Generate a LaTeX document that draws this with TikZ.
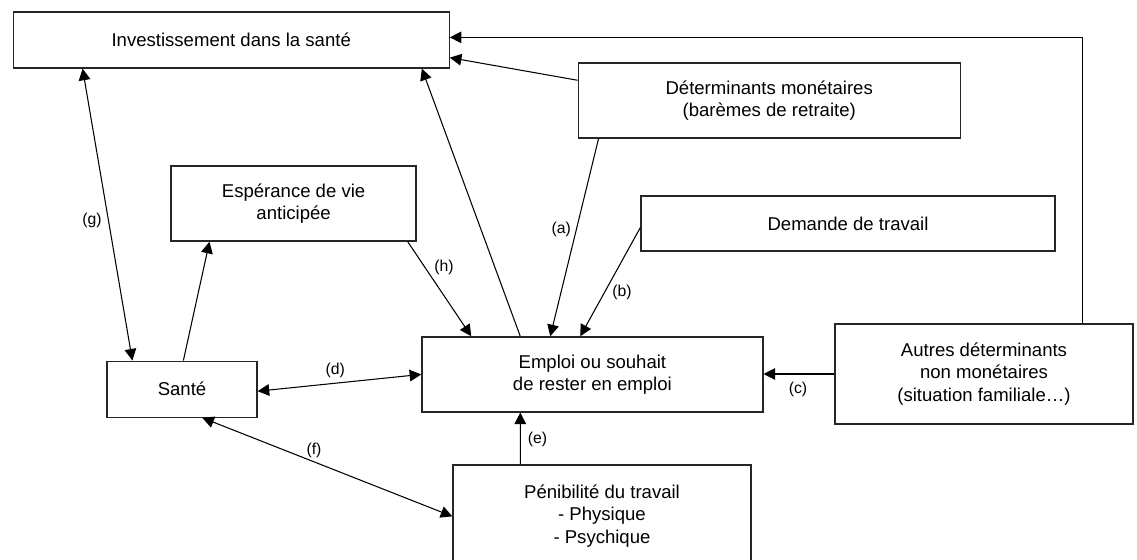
\documentclass[tikz,border=0pt]{standalone}
\usepackage{fontspec}
\setmainfont{Liberation Sans}
\usepackage{tikz}
\usetikzlibrary{arrows.meta}

\begin{document}
\begin{tikzpicture}[
    bloc/.style={draw=black!85, line width=0.9pt, align=center, inner sep=2pt, font=\fontsize{13.2}{15.8}\selectfont},
    arr/.style={-{Triangle[length=2.9mm, width=2.9mm]}, line width=0.75pt},
    darr/.style={{Triangle[length=2.9mm, width=2.9mm]}-{Triangle[length=2.9mm, width=2.9mm]}, line width=0.75pt},
    lbl/.style={inner sep=0pt, font=\fontsize{11.2}{13}\selectfont}
]
\useasboundingbox (0,0) rectangle (28.425,-14);
\node[bloc, minimum width=10.9cm, minimum height=1.4cm] (inv) at (5.78,-1.0) {Investissement dans la santé};
\node[bloc, minimum width=9.55cm, minimum height=1.875cm] (mon) at (19.23,-2.51) {Déterminants monétaires\\ (barèmes de retraite)};
\node[bloc, minimum width=6.125cm, minimum height=1.875cm] (esp) at (7.34,-5.09) {Espérance de vie\\ anticipée};
\node[bloc, minimum width=10.35cm, minimum height=1.375cm] (dem) at (21.2,-5.59) {Demande de travail};
\node[bloc, minimum width=3.75cm, minimum height=1.4cm] (sante) at (4.55,-9.73) {Santé};
\node[bloc, minimum width=8.525cm, minimum height=1.875cm] (emploi) at (14.81,-9.36) {Emploi ou souhait\\ de rester en emploi};
\node[bloc, minimum width=7.45cm, minimum height=2.5cm] (autres) at (24.6,-9.35) {Autres déterminants\\ non monétaires\\ (situation familiale…)};
\node[bloc, minimum width=7.45cm, minimum height=2.55cm] (penib) at (15.05,-12.9) {Pénibilité du travail\\ - Physique\\ - Psychique};
\draw[darr] ([xshift=1.75cm]inv.south west) -- ([xshift=0.65cm]sante.north west);
\draw[arr] ([xshift=1.925cm]sante.north west) -- ([xshift=0.975cm]esp.south west);
\draw[arr] ([xshift=2.475cm]emploi.north west) -- ([xshift=-0.7cm]inv.south east);
\draw[arr] ([yshift=-0.45cm]mon.north west) -- ([yshift=0.275cm]inv.south east);
\draw[arr] ([xshift=6.2cm]autres.north west) |- ([yshift=-0.65cm]inv.north east);
\draw[arr] ([xshift=0.525cm]mon.south west) -- ([xshift=3.225cm]emploi.north west);
\draw[arr] ([yshift=-0.8cm]dem.north west) -- ([xshift=3.975cm]emploi.north west);
\draw[arr] ([xshift=-0.225cm]esp.south east) -- ([xshift=1.25cm]emploi.north west);
\draw[arr] (autres.west) -- (autres.west -| emploi.east);
\draw[darr] ([yshift=-0.05cm]sante.east) -- (emploi.west);
\draw[darr] ([xshift=2.4cm]sante.south west) -- ([yshift=-1.3cm]penib.north west);
\draw[arr] ([xshift=1.7cm]penib.north west) -- ([xshift=2.475cm]emploi.south west);
\node[lbl] (la) at (14.03,-5.73) {(a)};
\node[lbl] (lb) at (15.55,-7.3) {(b)};
\node[lbl] (lc) at (19.95,-9.73) {(c)};
\node[lbl] (ld) at (8.38,-9.25) {(d)};
\node[lbl] (le) at (13.44,-10.98) {(e)};
\node[lbl] (lf) at (7.85,-11.25) {(f)};
\node[lbl] (lg) at (2.3,-5.5) {(g)};
\node[lbl] (lh) at (11.1,-6.68) {(h)};
\end{tikzpicture}
\end{document}
